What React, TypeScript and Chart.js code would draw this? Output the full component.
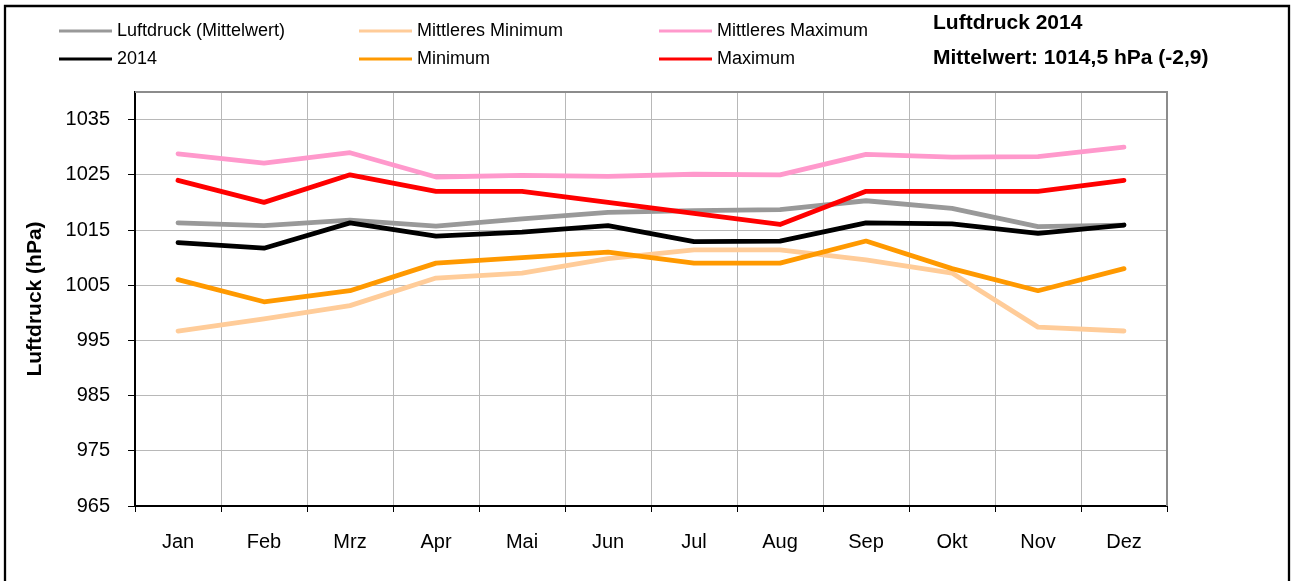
import React, { useEffect, useRef } from 'react';
import { Chart, registerables } from 'chart.js';

Chart.register(...registerables);

const months = ['Jan', 'Feb', 'Mrz', 'Apr', 'Mai', 'Jun', 'Jul', 'Aug', 'Sep', 'Okt', 'Nov', 'Dez'];

const mittelwert = [1016.3, 1015.8, 1016.8, 1015.7, 1017.0, 1018.2, 1018.5, 1018.7, 1020.3, 1018.9, 1015.6, 1015.9];
const mittleresMinimum = [996.7, 998.9, 1001.3, 1006.3, 1007.2, 1009.8, 1011.4, 1011.4, 1009.6, 1007.2, 997.4, 996.7];
const mittleresMaximum = [1028.8, 1027.1, 1029.0, 1024.6, 1024.9, 1024.7, 1025.1, 1025.0, 1028.7, 1028.2, 1028.3, 1030.0];
const jahr2014 = [1012.7, 1011.7, 1016.3, 1013.9, 1014.6, 1015.8, 1012.9, 1013.0, 1016.3, 1016.1, 1014.4, 1015.9];
const minimum = [1006, 1002, 1004, 1009, 1010, 1011, 1009, 1009, 1013, 1008, 1004, 1008];
const maximum = [1024, 1020, 1025, 1022, 1022, 1020, 1018, 1016, 1022, 1022, 1022, 1024];

const yTicks = [965, 975, 985, 995, 1005, 1015, 1025, 1035];

const chartTitle = 'Luftdruck 2014';
const chartSubtitle = 'Mittelwert: 1014,5 hPa (-2,9)';
const yAxisTitle = 'Luftdruck (hPa)';

const FONT = "'Liberation Sans', Arial, sans-serif";

const legendPlugin = {
  id: 'gridLegend',
  afterDraw(chart: any) {
    const ctx = chart.ctx;
    const cols = [59, 359, 659];
    const rows = [31, 59];
    ctx.save();
    chart.data.datasets.forEach((ds: any, i: number) => {
      const x = cols[i % 3];
      const y = rows[Math.floor(i / 3)];
      ctx.strokeStyle = ds.borderColor;
      ctx.lineWidth = 3;
      ctx.lineCap = 'butt';
      ctx.beginPath();
      ctx.moveTo(x, y);
      ctx.lineTo(x + 53, y);
      ctx.stroke();
      ctx.fillStyle = '#000';
      ctx.font = `18px ${FONT}`;
      ctx.textBaseline = 'middle';
      ctx.textAlign = 'left';
      ctx.fillText(ds.label, x + 58, y);
    });
    ctx.restore();
  },
};

const framePlugin = {
  id: 'frame',
  beforeDatasetsDraw(chart: any) {
    const { ctx, chartArea } = chart;
    ctx.save();
    ctx.strokeStyle = '#8c8c8c';
    ctx.lineWidth = 2;
    ctx.beginPath();
    ctx.moveTo(chartArea.left, chartArea.top);
    ctx.lineTo(chartArea.right, chartArea.top);
    ctx.lineTo(chartArea.right, chartArea.bottom);
    ctx.stroke();
    ctx.restore();
  },
  afterDraw(chart: any) {
    const ctx = chart.ctx;
    ctx.save();
    ctx.strokeStyle = '#000';
    ctx.lineWidth = 2.3;
    ctx.beginPath();
    ctx.moveTo(5, 590);
    ctx.lineTo(5, 6);
    ctx.lineTo(1289, 6);
    ctx.lineTo(1289, 590);
    ctx.stroke();
    ctx.fillStyle = '#000';
    ctx.font = `bold 21px ${FONT}`;
    ctx.textAlign = 'left';
    ctx.textBaseline = 'alphabetic';
    ctx.fillText(chartTitle, 933, 29);
    ctx.fillText(chartSubtitle, 933, 64);
    ctx.restore();
  },
};

export default function App() {
  const ref = useRef<HTMLCanvasElement | null>(null);

  useEffect(() => {
    if (!ref.current) return;
    const mk = (label: string, data: number[], color: string, order: number) => ({
      label,
      data,
      borderColor: color,
      backgroundColor: color,
      borderWidth: 4.8,
      pointRadius: 0,
      tension: 0,
      fill: false,
      borderCapStyle: 'round',
      borderJoinStyle: 'round',
      order,
    });
    const chart = new Chart(ref.current, {
      type: 'line',
      data: {
        labels: months,
        datasets: [
          mk('Luftdruck (Mittelwert)', mittelwert, '#999999', 6),
          mk('Mittleres Minimum', mittleresMinimum, '#ffcc99', 5),
          mk('Mittleres Maximum', mittleresMaximum, '#ff99cc', 4),
          mk('2014', jahr2014, '#000000', 3),
          mk('Minimum', minimum, '#ff9900', 2),
          mk('Maximum', maximum, '#ff0000', 1),
        ] as any,
      },
      options: {
        animation: false,
        responsive: false,
        events: [],
        layout: { padding: { left: 23, right: 125, top: 92, bottom: 0 } },
        plugins: {
          legend: { display: false },
          title: { display: false },
          tooltip: { enabled: false },
        },
        scales: {
          x: {
            type: 'category',
            offset: true,
            grid: {
              offset: true,
              color: '#b8b8b8',
              lineWidth: 1,
              tickColor: '#000',
              tickLength: 6,
            },
            border: { display: true, color: '#000', width: 2 },
            ticks: {
              font: { family: FONT, size: 20 },
              color: '#000',
              padding: 18,
              maxRotation: 0,
              autoSkip: false,
            },
            afterFit: (s: any) => {
              s.height = 75;
            },
          },
          y: {
            min: 965,
            max: 1040,
            afterBuildTicks: (s: any) => {
              s.ticks = yTicks.map((v) => ({ value: v }));
            },
            grid: {
              color: '#b8b8b8',
              lineWidth: 1,
              tickColor: '#000',
              tickLength: 7,
            },
            border: { display: true, color: '#000', width: 2 },
            ticks: {
              font: { family: FONT, size: 20 },
              color: '#000',
              padding: 18,
              callback: (v: any) => String(v),
            },
            title: {
              display: true,
              text: yAxisTitle,
              font: { family: FONT, size: 21, weight: 'bold' },
              color: '#000',
              padding: 0,
            },
            afterFit: (s: any) => {
              s.width = 112;
            },
          },
        },
      } as any,
      plugins: [framePlugin, legendPlugin],
    });
    return () => chart.destroy();
  }, []);

  return (
    <div style={{ position: 'fixed', left: 0, top: 0, width: 1292, height: 581, background: '#fff' }}>
      <canvas ref={ref} width={1292} height={581} style={{ display: 'block', width: 1292, height: 581 }} />
    </div>
  );
}
